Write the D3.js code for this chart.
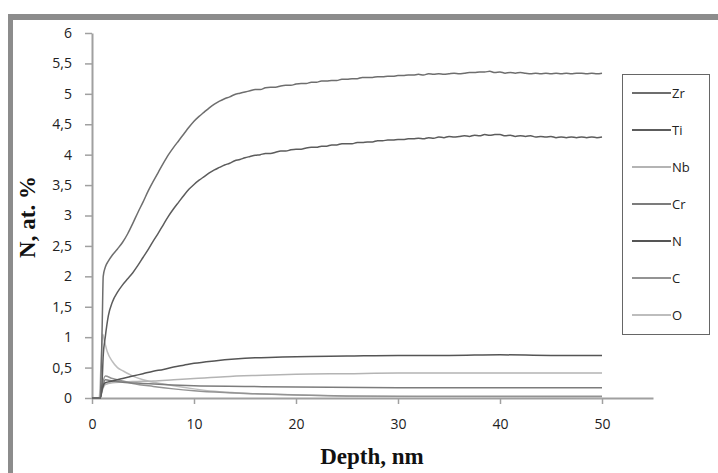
<!DOCTYPE html>
<html><head><meta charset="utf-8">
<script src="https://cdn.jsdelivr.net/npm/d3@7"></script>
<style>body{margin:0;background:#fff}svg{display:block}</style>
</head><body>
<svg id="c" width="718" height="473"></svg>
<script>
// ---- data (depth nm, at.%) ----
const elements = ["Zr","Ti","Nb","Cr","N","C","O"];
const xTicks = [0,10,20,30,40,50];
const yTicks = [0,0.5,1,1.5,2,2.5,3,3.5,4,4.5,5,5.5,6];
const yTickLabels = ["0","0,5","1","1,5","2","2,5","3","3,5","4","4,5","5","5,5","6"];

const zrProfile = [[0,0],[0.5,0],[0.8,0],[1.0,1.2],[1.1,2.0],[1.3,2.15],[1.6,2.25],[2,2.35],[2.5,2.45],[3,2.56],[3.5,2.7],[4,2.87],[4.5,3.05],[5,3.22],
[5.5,3.4],[6,3.56],[6.5,3.71],[7,3.86],[7.5,4.0],[8,4.12],[8.5,4.23],[9,4.34],[9.5,4.45],[10,4.55],[10.5,4.63],[11,4.7],[11.5,4.77],[12,4.83],[12.5,4.88],[13,4.92],[13.5,4.95],[14,4.99],[14.5,5.01],[15,5.03],[15.5,5.05],[16,5.07],[16.5,5.07],[17,5.1],[17.5,5.11],[18,5.11],[18.5,5.13],[19,5.14],[19.5,5.14],[20,5.16],[20.5,5.17],[21,5.17],[21.5,5.19],[22,5.19],[22.5,5.21],[23,5.21],[23.5,5.22],[24,5.22],[24.5,5.24],[25,5.24],[25.5,5.25],[26,5.25],[26.5,5.27],[27,5.27],[27.5,5.27],[28,5.28],[28.5,5.28],[29,5.29],[29.5,5.29],[30,5.3],[30.5,5.3],[31,5.31],[31.5,5.31],[32,5.32],[32.5,5.31],[33,5.33],[33.5,5.32],[34,5.33],[34.5,5.32],[35,5.33],[35.5,5.34],[36,5.33],[36.5,5.34],[37,5.35],[37.5,5.35],[38,5.36],[38.5,5.36],[39,5.37],[39.5,5.35],[40,5.36],[40.5,5.34],[41,5.35],[41.5,5.34],[42,5.35],[42.5,5.34],[43,5.33],[43.5,5.34],[44,5.33],[44.5,5.34],[45,5.33],[45.5,5.34],[46,5.33],[46.5,5.34],[47,5.33],[47.5,5.34],[48,5.34],[48.5,5.33],[49,5.34],[49.5,5.33],[50,5.34]];

const tiProfile = [[0,0],[0.5,0],[0.8,0],[1.0,0.3],[1.1,0.7],[1.3,1.0],[1.6,1.35],[2,1.58],[2.5,1.74],[3,1.86],[3.5,1.96],[4,2.06],[4.5,2.18],[5,2.31],
[5.5,2.44],[6,2.58],[6.5,2.71],[7,2.85],[7.5,2.99],[8,3.11],[8.5,3.22],[9,3.33],[9.5,3.43],[10,3.51],[10.5,3.58],[11,3.64],[11.5,3.7],[12,3.75],[12.5,3.79],[13,3.83],[13.5,3.86],[14,3.9],[14.5,3.92],[15,3.95],[15.5,3.97],[16,3.99],[16.5,4.0],[17,4.02],[17.5,4.02],[18,4.04],[18.5,4.06],[19,4.06],[19.5,4.08],[20,4.09],[20.5,4.09],[21,4.11],[21.5,4.12],[22,4.12],[22.5,4.14],[23,4.14],[23.5,4.16],[24,4.16],[24.5,4.18],[25,4.18],[25.5,4.18],[26,4.2],[26.5,4.2],[27,4.21],[27.5,4.21],[28,4.23],[28.5,4.23],[29,4.24],[29.5,4.24],[30,4.25],[30.5,4.25],[31,4.26],[31.5,4.26],[32,4.27],[32.5,4.26],[33,4.28],[33.5,4.27],[34,4.29],[34.5,4.28],[35,4.3],[35.5,4.29],[36,4.3],[36.5,4.31],[37,4.3],[37.5,4.32],[38,4.31],[38.5,4.33],[39,4.32],[39.5,4.33],[40,4.33],[40.5,4.31],[41,4.32],[41.5,4.3],[42,4.31],[42.5,4.3],[43,4.31],[43.5,4.29],[44,4.3],[44.5,4.29],[45,4.3],[45.5,4.28],[46,4.29],[46.5,4.28],[47,4.29],[47.5,4.28],[48,4.29],[48.5,4.28],[49,4.29],[49.5,4.28],[50,4.29]];

const nbProfile = [[0,0],[0.8,0],[1.0,0.12],[1.3,0.22],[2,0.25],[4,0.27],[6,0.28],[8,0.3],[10,0.32],[13,0.35],[16,0.37],[20,0.39],[25,0.4],[30,0.41],[40,0.41],[50,0.41]];
const crProfile = [[0,0],[0.8,0],[1.0,0.15],[1.3,0.3],[2,0.28],[3,0.26],[5,0.24],[7,0.22],[10,0.2],[15,0.19],[20,0.18],[30,0.17],[40,0.17],[50,0.17]];
const nProfile = [[0,0],[0.8,0],[1.0,0.15],[1.3,0.25],[2,0.28],[3,0.32],[4,0.36],[5,0.4],[6,0.44],[7,0.47],[8,0.51],[9,0.54],[10,0.57],[12,0.61],[14,0.64],[16,0.66],[18,0.67],[20,0.68],[25,0.69],[30,0.7],[35,0.7],[40,0.71],[45,0.7],[50,0.7]];
const cProfile = [[0,0],[0.8,0],[1.0,0.2],[1.3,0.36],[2,0.32],[3,0.28],[4,0.24],[6,0.19],[8,0.15],[10,0.12],[13,0.09],[16,0.07],[20,0.05],[30,0.03],[40,0.03],[50,0.03]];
const oProfile = [[0,0],[0.7,0],[0.9,0.6],[1.05,1.05],[1.2,0.95],[1.5,0.76],[2,0.6],[2.5,0.5],[3,0.45],[4,0.36],[5,0.3],[6,0.26],[7,0.23],[8,0.2],[10,0.15],[12,0.11],[14.5,0.08],[18,0.06],[25,0.03],[35,0.02],[50,0.01]];

const profiles = [zrProfile, tiProfile, nbProfile, crProfile, nProfile, cProfile, oProfile];
const colors = ["#6e6e6e","#5c5c5c","#b4b4b4","#7c7c7c","#555555","#939393","#bdbdbd"];

// ---- drawing ----
const svg = d3.select("#c");
svg.append("rect").attr("x",8).attr("y",14).attr("width",710).attr("height",6).attr("fill","#8c8c8c");
svg.append("rect").attr("x",8).attr("y",14).attr("width",5).attr("height",459).attr("fill","#8c8c8c");

const x = d3.scaleLinear().domain([0,55]).range([92,653]);
const y = d3.scaleLinear().domain([0,6]).range([398,33]);

const axisColor = "#a0a0a0";
const font = "'Open Sans', sans-serif";

const gx = svg.append("g").attr("transform","translate(0,398)")
  .call(d3.axisBottom(x).tickValues(xTicks).tickSize(6).tickPadding(15).tickSizeOuter(0));
const gy = svg.append("g").attr("transform","translate(92,0)")
  .call(d3.axisLeft(y).tickValues(yTicks).tickFormat((d,i)=>yTickLabels[i]).tickSize(7).tickPadding(13).tickSizeOuter(0));
[gx,gy].forEach(g=>{
  g.select(".domain").attr("stroke",axisColor).attr("stroke-width",2);
  g.selectAll(".tick line").attr("stroke",axisColor).attr("stroke-width",1.5);
  g.selectAll("text").attr("fill","#222").style("font-family",font).style("font-size","14px");
});

const line = d3.line().x(d=>x(d[0])).y(d=>y(d[1])).curve(d3.curveMonotoneX);
const order = [6,2,5,3,4,1,0];
order.forEach(i=>{
  svg.append("path").datum(profiles[i]).attr("d",line)
    .attr("fill","none").attr("stroke",colors[i]).attr("stroke-width",1.5);
});

// legend
const lg = svg.append("g");
lg.append("rect").attr("x",622.5).attr("y",74.5).attr("width",87).attr("height",260)
  .attr("fill","#fff").attr("stroke","#666").attr("stroke-width",1);
elements.forEach((e,i)=>{
  const yy = 93 + i*37;
  lg.append("line").attr("x1",632).attr("x2",671).attr("y1",yy).attr("y2",yy)
    .attr("stroke",colors[i]).attr("stroke-width",2);
  lg.append("text").attr("x",672).attr("y",yy).attr("dy","0.35em")
    .attr("fill","#222").style("font-family",font).style("font-size","13px").text(e);
});

// axis titles
svg.append("text").attr("x",372).attr("y",464).attr("text-anchor","middle")
  .style("font-family","'Liberation Serif', 'Times New Roman', serif").style("font-weight","bold").style("font-size","23px")
  .attr("fill","#111").text("Depth, nm");
svg.append("text").attr("transform","translate(35,217) rotate(-90)").attr("text-anchor","middle")
  .style("font-family","'Liberation Serif', 'Times New Roman', serif").style("font-weight","bold").style("font-size","23px")
  .attr("fill","#111").text("N, at. %");
</script>
</body></html>
